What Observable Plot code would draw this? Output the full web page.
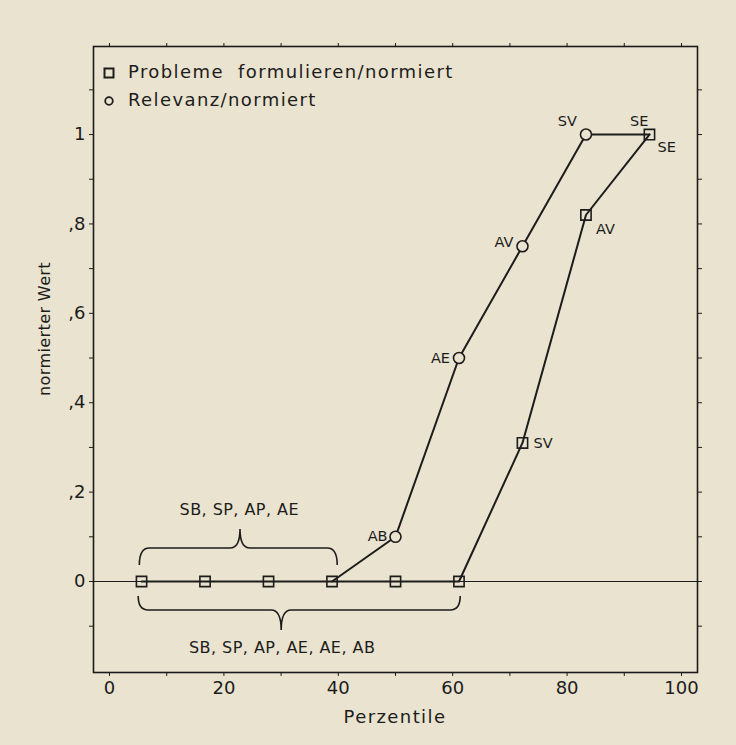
<!DOCTYPE html>
<html><head><meta charset="utf-8">
<script src="https://cdn.jsdelivr.net/npm/d3@7"></script>
<script src="https://cdn.jsdelivr.net/npm/@observablehq/plot@0.6"></script>
<style>
html,body{margin:0;padding:0;background:#e9e3cf;}
#chart{width:736px;height:745px;}
svg{font-family:"DejaVu Sans",sans-serif;}
</style></head><body><div id="chart"></div>
<script>
// ---- data ----
const percentiles = [5.6, 16.7, 27.8, 38.9, 50, 61.1, 72.2, 83.3, 94.4];
const problemeValues = [0, 0, 0, 0, 0, 0, 0.31, 0.82, 1];
const relevanzValues = [0, 0, 0, 0, 0.1, 0.5, 0.75, 1, 1];
const problemeLabels = ["SB", "SP", "AP", "AE", "AE", "AB", "SV", "AV", "SE"];
const relevanzLabels = ["SB", "SP", "AP", "AE", "AB", "AE", "AV", "SV", "SE"];
const seriesNames = ["Probleme  formulieren/normiert", "Relevanz/normiert"];
const xTicks = [0, 10, 20, 30, 40, 50, 60, 70, 80, 90, 100];
const xTickLabels = ["0", "", "20", "", "40", "", "60", "", "80", "", "100"];
const yTicks = [-0.1, 0, 0.1, 0.2, 0.3, 0.4, 0.5, 0.6, 0.7, 0.8, 0.9, 1, 1.1];
const yTickLabels = ["", "0", "", ",2", "", ",4", "", ",6", "", ",8", "", "1", ""];
const xLabel = "Perzentile";
const yLabel = "normierter Wert";
// braces: span (percentile start/end) and tip position
const braceStart = [5.3, 5.1];
const braceEnd = [39.9, 61.4];
const braceTip = [22.9, 30.1];

// ---- tables ----
const ink = "#1c1c1c";
const bg = "#e9e3cf";
const probleme = percentiles.map((x, i) => ({x, y: problemeValues[i], label: problemeLabels[i], i}));
const relevanz = percentiles.map((x, i) => ({x, y: relevanzValues[i], label: relevanzLabels[i], i}));
const relevanzLine = relevanz.filter((d, i) => i >= relevanzValues.findLastIndex(v => v === 0));
const relevanzDots = relevanz.filter((d, i) => relevanzValues[i] !== problemeValues[i]);
const braceTexts = [
  relevanzLabels.filter((l, i) => relevanzValues[i] === 0).join(", "),
  problemeLabels.filter((l, i) => problemeValues[i] === 0).join(", ")
];

// label offsets (layout)
const relOff = {4: [-8, 0], 5: [-9, 0], 6: [-9, -4], 7: [-9, -13], 8: [-1, -13]};
const probOff = {6: [11, 0], 7: [10, 14], 8: [8, 13]};

const labelMarks = [];
for (const [k, [dx, dy]] of Object.entries(relOff)) {
  labelMarks.push(Plot.text(relevanz.filter(d => d.i === +k), {x: "x", y: "y", text: "label", dx, dy, textAnchor: "end", fontSize: 14.5, fill: ink}));
}
for (const [k, [dx, dy]] of Object.entries(probOff)) {
  labelMarks.push(Plot.text(probleme.filter(d => d.i === +k), {x: "x", y: "y", text: "label", dx, dy, textAnchor: "start", fontSize: 14.5, fill: ink}));
}

// brace render mark (uses the plot's scales)
function braces(index, scales) {
  const g = d3.create("svg:g").attr("fill", "none").attr("stroke", ink).attr("stroke-width", 1.6);
  const y0 = scales.y(0);
  const r = 10;
  const specs = [
    {k: 0, ye: -16, ym: -33, yt: -52, ty: -71},
    {k: 1, ye: 15, ym: 29, yt: 49, ty: 67}
  ];
  for (const s of specs) {
    const x1 = scales.x(braceStart[s.k]), x2 = scales.x(braceEnd[s.k]), xt = scales.x(braceTip[s.k]);
    const ye = y0 + s.ye, ym = y0 + s.ym, yt = y0 + s.yt;
    g.append("path").attr("d",
      `M${x1},${ye} Q${x1},${ym} ${x1 + r},${ym} L${xt - r},${ym} Q${xt},${ym} ${xt},${yt} Q${xt},${ym} ${xt + r},${ym} L${x2 - r},${ym} Q${x2},${ym} ${x2},${ye}`);
    g.append("text").attr("x", s.k === 0 ? (x1 + x2) / 2 + 1 : xt + 1).attr("y", y0 + s.ty)
      .attr("stroke", "none").attr("fill", ink).attr("letter-spacing", 0.45)
      .attr("text-anchor", "middle").attr("dominant-baseline", "middle").attr("font-size", 16).text(braceTexts[s.k]);
  }
  return g.node();
}

// axis titles + legend (positioned in the frame)
function titles(index, scales, values, dim) {
  const g = d3.create("svg:g").attr("fill", ink);
  const fx0 = dim.marginLeft, fx1 = dim.width - dim.marginRight;
  const fy0 = dim.marginTop, fy1 = dim.height - dim.marginBottom;
  g.append("text").attr("x", (fx0 + fx1) / 2).attr("y", fy1 + 46).attr("text-anchor", "middle")
    .attr("dominant-baseline", "middle").attr("font-size", 18).attr("letter-spacing", 1.4).text(xLabel);
  g.append("text").attr("transform", `translate(${fx0 - 48},${(fy0 + fy1) / 2 - 30}) rotate(-90)`)
    .attr("text-anchor", "middle").attr("dominant-baseline", "middle").attr("font-size", 16)
    .attr("letter-spacing", 0.4).text(yLabel);
  // legend
  const lx = fx0 + 16, ly = [fy0 + 27, fy0 + 55];
  g.append("rect").attr("x", lx - 4.5).attr("y", ly[0] - 4.5).attr("width", 9).attr("height", 9)
    .attr("fill", "none").attr("stroke", ink).attr("stroke-width", 2);
  g.append("circle").attr("cx", lx).attr("cy", ly[1]).attr("r", 3.8)
    .attr("fill", "none").attr("stroke", ink).attr("stroke-width", 1.8);
  seriesNames.forEach((name, i) => {
    g.append("text").attr("x", fx0 + 35).attr("y", ly[i]).attr("dominant-baseline", "middle")
      .attr("text-anchor", "start")
      .attr("font-size", 18).attr("letter-spacing", 1.4).attr("xml:space", "preserve")
      .style("white-space", "pre").text(name);
  });
  return g.node();
}

const chart = Plot.plot({
  width: 736,
  height: 745,
  marginLeft: 93,
  marginRight: 39,
  marginTop: 46,
  marginBottom: 73,
  style: {background: "transparent", fontFamily: "DejaVu Sans, sans-serif", color: ink},
  x: {domain: [-2.8, 102.8]},
  y: {domain: [-0.2036, 1.197]},
  marks: [
    Plot.ruleY([0], {stroke: ink, strokeWidth: 1}),
    Plot.line(probleme, {x: "x", y: "y", stroke: ink, strokeWidth: 2}),
    Plot.line(relevanzLine, {x: "x", y: "y", stroke: ink, strokeWidth: 2}),
    Plot.dot(probleme, {x: "x", y: "y", symbol: "square", r: 5.8, stroke: ink, strokeWidth: 1.6, fill: "none"}),
    Plot.dot(relevanzDots, {x: "x", y: "y", symbol: "circle", r: 5.5, stroke: ink, strokeWidth: 1.6, fill: bg}),
    ...labelMarks,
    braces,
    // axes
    Plot.axisX({anchor: "bottom", ticks: xTicks, tickSize: 4, tickPadding: 5, tickFormat: d => xTickLabels[xTicks.indexOf(d)], fontSize: 18, label: null, stroke: ink, fill: ink}),
    Plot.axisX({anchor: "top", ticks: xTicks, tickSize: 4, tickFormat: () => "", label: null, stroke: ink}),
    Plot.axisY({anchor: "left", ticks: yTicks, tickSize: 4, tickPadding: 4, tickFormat: d => yTickLabels[yTicks.findIndex(t => Math.abs(t - d) < 1e-9)], fontSize: 18, label: null, stroke: ink, fill: ink}),
    Plot.axisY({anchor: "right", ticks: yTicks, tickSize: 4, tickFormat: () => "", label: null, stroke: ink}),
    titles,
    Plot.frame({stroke: ink, strokeWidth: 1.6})
  ]
});
document.getElementById("chart").append(chart);
</script>
</body></html>
